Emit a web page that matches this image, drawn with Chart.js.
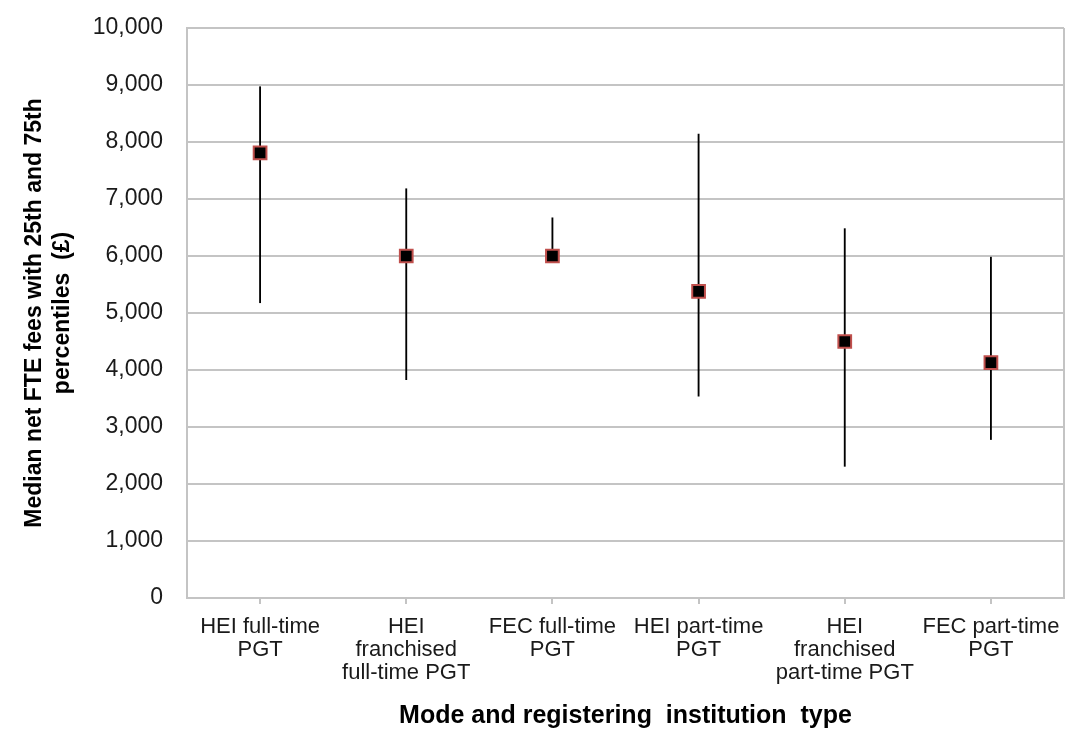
<!DOCTYPE html>
<html lang="en">
<head>
<meta charset="UTF-8">
<script src="https://cdn.jsdelivr.net/npm/chart.js@4.4.1/dist/chart.umd.min.js"></script>
<title>Median net FTE fees</title>
<style>
    html, body { margin: 0; background: #fff; overflow: hidden; }
    #wrap { width: 1065px; height: 747px; }
</style>
</head>
<body>
<div id="wrap"><canvas id="fees"></canvas></div>
<script>
// categories (multi-line labels)
var categories = [
    ["HEI full-time", "PGT"],
    ["HEI", "franchised", "full-time PGT"],
    ["FEC full-time", "PGT"],
    ["HEI part-time", "PGT"],
    ["HEI", "franchised", "part-time PGT"],
    ["FEC part-time", "PGT"]
];
var median = [7810, 6000, 6000, 5380, 4500, 4130];
var p25 = [5180, 3830, 6000, 3540, 2310, 2780];
var p75 = [8970, 7180, 6670, 8140, 6480, 5980];

var whiskers = [];
for (var i = 0; i < median.length; i++) {
    whiskers.push([p25[i], p75[i]]);
}

var gridGray = "#c4c4c4";

// frame around the plot area (right edge)
var frame = {
    id: 'frame',
    beforeDatasetsDraw: function(chart) {
        var a = chart.chartArea, ctx = chart.ctx;
        ctx.save();
        ctx.strokeStyle = gridGray;
        ctx.lineWidth = 2;
        ctx.beginPath();
        ctx.moveTo(a.right, a.top);
        ctx.lineTo(a.right, a.bottom);
        ctx.stroke();
        ctx.restore();
    }
};

var ctx = document.getElementById("fees");
var chart = new Chart(ctx, {
    type: 'bar',
    data: {
        labels: categories,
        datasets: [
        {
            type: 'line',
            label: 'Median',
            data: median,
            showLine: false,
            pointStyle: 'rect',
            pointRadius: 9,
            pointBackgroundColor: "#000000",
            pointBorderColor: "#c0504d",
            pointBorderWidth: 2,
            order: 0
        },
        {
            label: '25th-75th percentile',
            data: whiskers,
            backgroundColor: "#000000",
            barThickness: 1.2,
            order: 1
        }]
    },
    options: {
        responsive: true,
        maintainAspectRatio: false,
        animation: false,
        layout: { autoPadding: false, padding: { top: 28, right: 1, left: 0, bottom: 0 } },
        plugins: {
            legend: { display: false },
            tooltip: { enabled: false }
        },
        scales: {
            x: {
                offset: true,
                grid: {
                    offset: false,
                    drawOnChartArea: false,
                    drawTicks: true,
                    tickLength: 6,
                    color: gridGray,
                    lineWidth: 2
                },
                border: { display: true, color: gridGray, width: 2 },
                ticks: {
                    color: "#1a1a1a",
                    maxRotation: 0,
                    autoSkip: false,
                    padding: 11,
                    font: { family: "'Liberation Sans', Arial, sans-serif", size: 22, lineHeight: 1.05 }
                },
                title: {
                    display: true,
                    text: "Mode and registering  institution  type",
                    color: "#000000",
                    font: { family: "'Liberation Sans', Arial, sans-serif", size: 25, weight: 'bold' },
                    padding: { top: 14, bottom: 16 }
                },
                afterFit: function(scale) {
                    scale.height = 149;
                    scale.paddingLeft = 0;
                    scale.paddingRight = 0;
                }
            },
            y: {
                min: 0,
                max: 10000,
                ticks: {
                    stepSize: 1000,
                    color: "#1a1a1a",
                    padding: 24,
                    font: { family: "'Liberation Sans', Arial, sans-serif", size: 23 },
                    callback: function(v) { return v.toLocaleString('en-GB'); }
                },
                grid: { color: gridGray, lineWidth: 2, drawTicks: false },
                border: { display: true, color: gridGray, width: 2 },
                title: {
                    display: true,
                    text: ["Median net FTE fees with 25th and 75th", "percentiles  (£)"],
                    color: "#000000",
                    font: { family: "'Liberation Sans', Arial, sans-serif", size: 23, weight: 'bold', lineHeight: 1.2 },
                    padding: { top: 21, bottom: 0 }
                },
                afterFit: function(scale) {
                    scale.width = 187;
                    scale.paddingTop = 0;
                    scale.paddingBottom = 0;
                }
            }
        }
    },
    plugins: [frame]
});
</script>
</body>
</html>
